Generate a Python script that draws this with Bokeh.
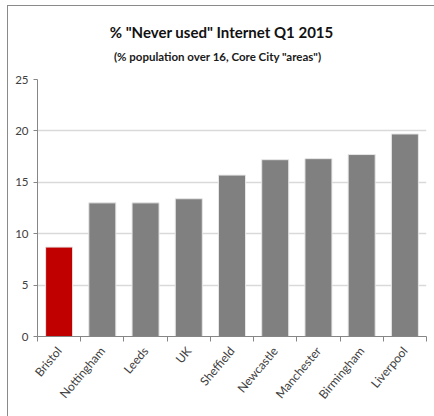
from bokeh.plotting import figure
from bokeh.layouts import column
from bokeh.models import FixedTicker, Div, ColumnDataSource, Range1d
from bokeh.embed import file_html
from bokeh.resources import INLINE

# Share of people aged 16+ who have never used the internet, Q1 2015
cities = ["Bristol", "Nottingham", "Leeds", "UK", "Sheffield",
          "Newcastle", "Manchester", "Birmingham", "Liverpool"]
never_used = [8.7, 13.0, 13.0, 13.4, 15.7, 17.2, 17.3, 17.7, 19.7]
bar_colors = ["#C00000"] + ["#808080"] * 8
y_ticks = [0, 5, 10, 15, 20, 25]

title_text = '% "Never used" Internet Q1 2015'
subtitle_text = '(% population over 16, Core City "areas")'

FONT = "Lato"
HEADER_H = 68

centers = [i + 0.5 for i in range(len(cities))]
bounds = list(range(len(cities) + 1))

src = ColumnDataSource(dict(x=centers, top=never_used, color=bar_colors, city=cities))

p = figure(
    frame_width=389, frame_height=257,
    min_border_left=29, min_border_right=8, min_border_top=5, min_border_bottom=80,
    x_range=Range1d(0, len(cities)), y_range=Range1d(0, 25),
    output_backend="svg", toolbar_location=None,
    background_fill_color="white", border_fill_color="white",
)
p.outline_line_color = None
p.title = None

p.vbar(x="x", top="top", width=0.625, bottom=0, source=src,
       fill_color="color", line_color="#e6e6e6", line_width=1)

# y axis
p.yaxis.ticker = FixedTicker(ticks=y_ticks)
p.yaxis.axis_line_color = "#868686"
p.yaxis.major_tick_line_color = "#868686"
p.yaxis.major_tick_out = 4
p.yaxis.major_tick_in = 0
p.yaxis.minor_tick_line_color = None
p.yaxis.major_label_text_font = FONT
p.yaxis.major_label_text_font_size = "11.5px"
p.yaxis.major_label_text_color = "#404040"
p.yaxis.major_label_standoff = 5

# x axis: labels at bar centres, ticks between categories
p.xaxis.ticker = FixedTicker(ticks=centers, minor_ticks=bounds)
p.xaxis.major_label_overrides = {c: name for c, name in zip(centers, cities)}
p.xaxis.major_label_orientation = 0.87
p.xaxis.major_tick_line_color = None
p.xaxis.minor_tick_line_color = "#868686"
p.xaxis.minor_tick_out = 5
p.xaxis.minor_tick_in = 0
p.xaxis.axis_line_color = "#868686"
p.xaxis.major_label_text_font = FONT
p.xaxis.major_label_text_font_size = "12px"
p.xaxis.major_label_text_color = "#404040"
p.xaxis.major_label_standoff = 6

p.xgrid.grid_line_color = None
p.ygrid.ticker = FixedTicker(ticks=y_ticks)
p.ygrid.grid_line_color = "#d9d9d9"
p.ygrid.grid_line_width = 1.5

# Heading block above the plot
line_css = ("position:absolute;left:0;margin:0;padding:0;white-space:nowrap;"
            "text-align:center;font-family:Lato;font-weight:bold;")
header_html = (
    f'<div style="position:relative;width:426px;height:{HEADER_H}px;">'
    f'<div style="{line_css}top:19px;width:427px;font-size:15px;line-height:15px;color:#111111;">'
    f'{title_text}</div>'
    f'<div style="{line_css}top:45px;width:419px;font-size:11.5px;line-height:11.5px;color:#1a1a1a;">'
    f'{subtitle_text}</div>'
    '</div>'
)
header = Div(text=header_html, width=426, height=HEADER_H, margin=(0, 0, 0, 0))

chart = column(header, p, spacing=0)
chart.styles = {"margin-left": "7px", "margin-top": "5px", "background-color": "white",
                "border-left": "1px solid #8a8a8a", "border-top": "1px solid #8a8a8a"}

open("out.html", "w").write(file_html(chart, INLINE))
